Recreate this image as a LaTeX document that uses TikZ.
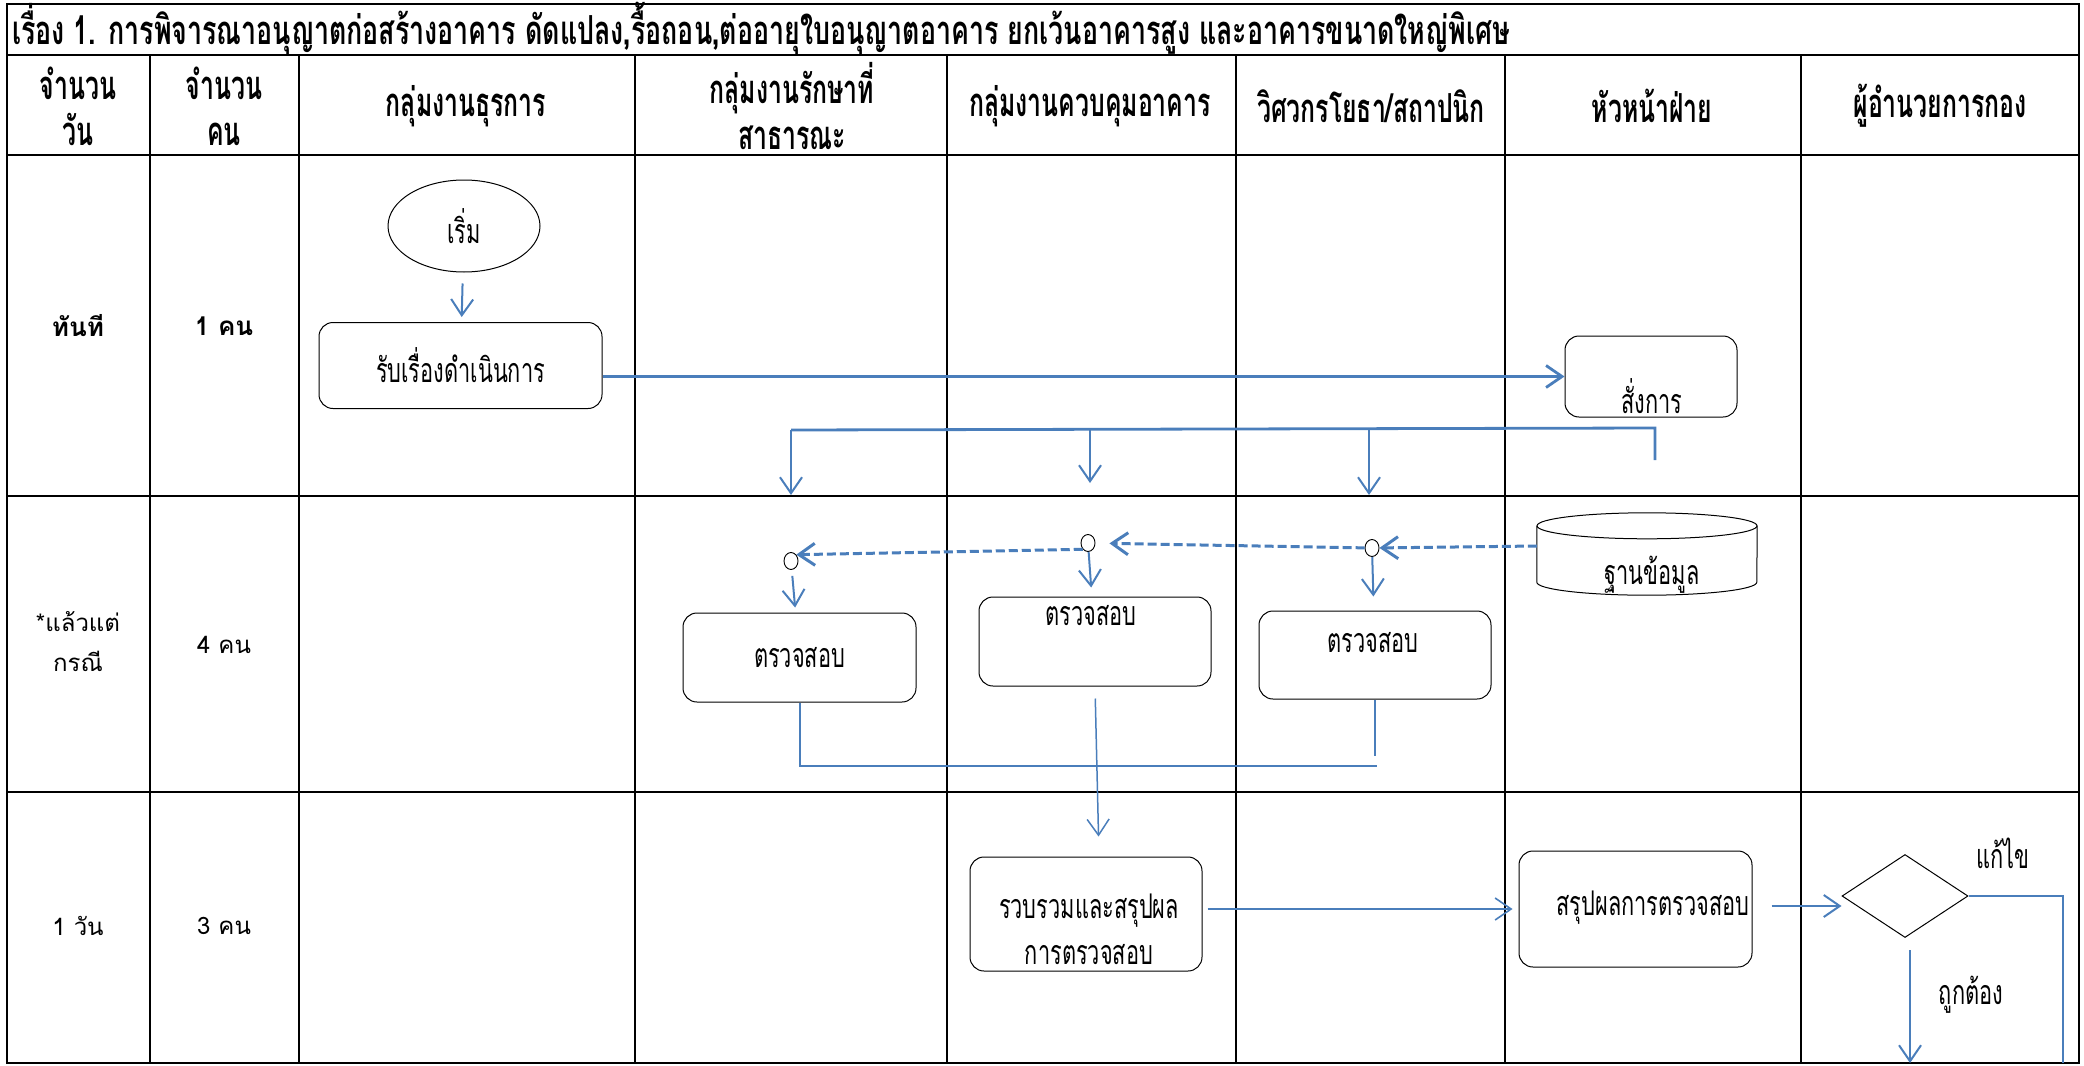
\documentclass[tikz,border=0pt]{standalone}
\usepackage{fontspec}
\usetikzlibrary{arrows.meta,shapes.geometric}
\newfontfamily\tht[Script=Thai,FakeStretch=0.67]{Loma}
\newfontfamily\thh[Script=Thai,FakeStretch=0.62]{Loma}
\newfontfamily\thc[Script=Thai,FakeStretch=0.64]{Loma}
\newfontfamily\thl[Script=Thai]{Loma}
\definecolor{flow}{RGB}{74,126,187}
\begin{document}
\begin{tikzpicture}[x=1pt,y=-1pt,
  grid/.style={line width=2.6pt,black},
  hdr/.style={font=\thh\bfseries\fontsize{40}{46}\selectfont,align=center,inner sep=0pt},
  cnt/.style={font=\thl\fontsize{24}{40}\selectfont,align=center,inner sep=0pt},
  cntb/.style={cnt,font=\thl\bfseries\fontsize{26}{40}\selectfont},
  stepbox/.style={draw,rounded corners=14pt,line width=1pt,inner sep=0pt},
  lbl/.style={font=\thc\fontsize{34}{46}\selectfont,align=center,inner sep=0pt},
  flowline/.style={draw=flow,line width=2pt},
  arr/.style={flowline,-{Straight Barb[length=16pt,width=22pt]}},
  darr/.style={arr,dash pattern=on 9pt off 4pt,line width=3pt},
  knot/.style={ellipse,draw,fill=white,line width=0.9pt,minimum width=14pt,minimum height=17pt,inner sep=0pt}
]
\useasboundingbox (0,0) rectangle (2084,1065);

% table frame
\draw[grid] (7,4) rectangle (2079,1063);
\foreach \y in {55,155,496,792} \draw[grid] (7,\y) -- (2079,\y);
\foreach \x in {150,299,635,947,1236,1505,1801} \draw[grid] (\x,55) -- (\x,1063);

% title and column heads
\node[hdr,font=\tht\bfseries\fontsize{40}{46}\selectfont,anchor=west] (title) at (12,29) {เรื่อง 1. การพิจารณาอนุญาตก่อสร้างอาคาร ดัดแปลง,รื้อถอน,ต่ออายุใบอนุญาตอาคาร ยกเว้นอาคารสูง และอาคารขนาดใหญ่พิเศษ};
\node[hdr] (h1) at (78,106) {จำนวน\\วัน};
\node[hdr] (h2) at (224,106) {จำนวน\\คน};
\node[hdr] (h3) at (466,106) {กลุ่มงานธุรการ};
\node[hdr] (h4) at (792,106) {กลุ่มงานรักษาที่\\สาธารณะ};
\node[hdr] (h5) at (1090,106) {กลุ่มงานควบคุมอาคาร};
\node[hdr] (h6) at (1371,106) {วิศวกรโยธา/สถาปนิก};
\node[hdr] (h7) at (1652,106) {หัวหน้าฝ่าย};
\node[hdr] (h8) at (1940,106) {ผู้อำนวยการกอง};

% days and staff
\node[cntb] (d1) at (78,326) {ทันที};
\node[cntb] (p1) at (224,326) {1 คน};
\node[cnt] (d2) at (78,642) {*แล้วแต่\\กรณี};
\node[cnt] (p2) at (224,645) {4 คน};
\node[cnt] (d3) at (78,926) {1 วัน};
\node[cnt] (p3) at (224,926) {3 คน};

% flow shapes
\node[ellipse,draw,line width=1pt,minimum width=152pt,minimum height=92pt,inner sep=0pt,lbl] (start) at (464,226) {เริ่ม};
\node[stepbox,lbl,minimum width=283pt,minimum height=86pt] (rcv) at (460.5,365.5) {รับเรื่องดำเนินการ};
\node[stepbox,minimum width=172pt,minimum height=81pt] (cmd) at (1651,376.5) {};
\node[lbl] (cmdt) at (1652,396) {สั่งการ};

% database drum
\node[minimum width=220pt,minimum height=82pt,inner sep=0pt] (db) at (1647,554) {};
\draw[line width=1pt] (db.north west) ++(0,13) -- ([yshift=13pt]db.south west)
  arc[start angle=180,end angle=0,x radius=110,y radius=13] -- ([yshift=-13pt]db.north east);
\draw[line width=1pt] ([yshift=-13pt]db.north) ellipse[x radius=110,y radius=13];
\node[lbl] (dbt) at (1652,575) {ฐานข้อมูล};

\node[knot] (k1) at (791,561) {};
\node[knot] (k2) at (1088,543) {};
\node[knot] (k3) at (1372,548) {};

\node[stepbox,lbl,minimum width=233pt,minimum height=89pt] (chk1) at (799.5,657.5) {ตรวจสอบ};
\node[stepbox,minimum width=232pt,minimum height=89pt] (chk2) at (1095,641.5) {};
\node[lbl] (chk2t) at (1091,616) {ตรวจสอบ};
\node[stepbox,minimum width=232pt,minimum height=88pt] (chk3) at (1375,655) {};
\node[lbl] (chk3t) at (1373,643) {ตรวจสอบ};

\node[stepbox,minimum width=232pt,minimum height=114pt] (sum) at (1086,914) {};
\node[lbl] (sumt) at (1089,929) {รวบรวมและสรุปผล\\การตรวจสอบ};
\node[stepbox,minimum width=233pt,minimum height=116pt] (res) at (1635.5,909) {};
\node[lbl] (rest) at (1653,908) {สรุปผลการตรวจสอบ};

\node[diamond,draw,line width=1pt,aspect=1.52,minimum width=126pt,minimum height=83pt,inner sep=0pt] (dec) at (1905,896) {};
\node[lbl] (fixt) at (2003,853) {แก้ไข};
\node[lbl] (okt) at (1971,995) {ถูกต้อง};

% fork of the order line
\coordinate (fork) at (1655,460);
\coordinate (busR) at (1655,428);
\coordinate (bus1) at (791,430);
\coordinate (bus2) at (1090,429);
\coordinate (bus3) at (1369,429);
\coordinate (end1) at (791,495);
\coordinate (end2) at (1090,483);
\coordinate (end3) at (1369,495);
\coordinate (fixend) at (2063,1063);
\coordinate (okend) at (1910,1063);

% connectors
\draw[arr,shorten <=11pt,shorten >=5pt] (start) -- (rcv);
\draw[arr,line width=2.8pt] (rcv.east |- cmd.west) -- (cmd.west);
\draw[flowline,line width=2.8pt] (fork) -- (busR) -- (bus1);
\draw[arr] (bus1) -- (end1);
\draw[arr] (bus2) -- (end2);
\draw[arr] (bus3) -- (end3);

\draw[darr] (db.west |- 0,546) -- (k3);
\draw[darr,shorten >=14pt] (k3) -- (k2);
\draw[darr] (k2.south west) -- (k1.north east);

\draw[arr,shorten <=6pt,shorten >=5pt] (k1) -- (chk1);
\draw[arr,shorten >=9pt] (k2) -- (chk2);
\draw[arr,shorten >=14pt] (k3) -- (chk3);

\draw[flowline] (chk1.south) -- (chk1.south |- 0,766) -- (1377,766);
\draw[flowline] (chk3.south) -- (chk3.south |- 0,756);
\draw[arr,line width=1.5pt,shorten <=12pt,shorten >=20pt] (chk2.south) -- ([xshift=13pt]sum.north);

\draw[arr,line width=1.6pt,shorten <=5pt,shorten >=6pt] (sum.east |- res.west) -- (res.west);
\draw[arr,line width=2pt,shorten <=19pt] (res.east |- 0,906) -- (dec.west |- 0,906);
\draw[flowline,line width=2.8pt] (dec.east) -- (dec.east -| fixend) -- (fixend);
\draw[arr,shorten <=12pt] (dec.south -| okend) -- (okend);
\end{tikzpicture}
\end{document}
